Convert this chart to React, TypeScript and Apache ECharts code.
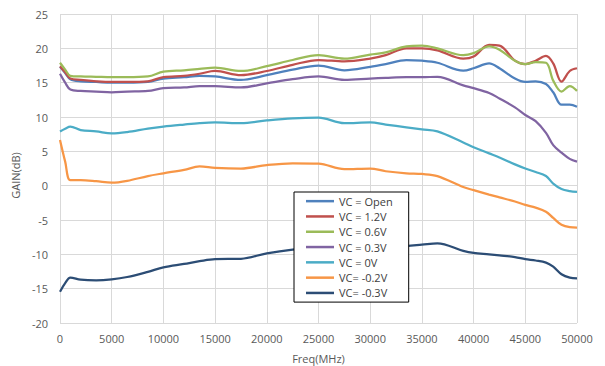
import React, { useEffect, useRef } from "react";
import * as echarts from "echarts";

const freq = [0, 500, 1000, 2000, 3500, 5000, 6500, 8500, 10000, 12000, 13500, 15000, 17500, 20000, 22500, 25000, 27500, 30000, 31500, 33500, 35000, 36500, 39000, 40000, 41500, 42500, 44000, 45000, 46000, 47000, 47700, 48500, 49300, 50000];

const vcOpen = [17.3, 16.4, 15.5, 15.2, 15.1, 15.0, 15.0, 15.1, 15.6, 15.8, 16.0, 15.9, 15.4, 16.1, 16.9, 17.5, 16.8, 17.3, 17.7, 18.3, 18.2, 17.9, 16.75, 17.1, 17.8, 17.1, 15.6, 15.1, 15.2, 14.8, 13.6, 11.8, 11.8, 11.5];
const vc12 = [17.4, 16.5, 15.6, 15.4, 15.2, 15.1, 15.1, 15.2, 15.8, 16.0, 16.3, 16.7, 16.1, 16.7, 17.6, 18.3, 18.1, 18.5, 19.0, 20.0, 20.0, 19.7, 18.5, 18.8, 20.5, 20.4, 18.2, 17.7, 18.2, 18.9, 17.8, 15.15, 16.7, 17.1];
const vc06 = [17.9, 16.9, 16.0, 15.9, 15.85, 15.8, 15.8, 15.9, 16.6, 16.8, 17.0, 17.2, 16.7, 17.4, 18.3, 19.0, 18.5, 19.1, 19.4, 20.3, 20.4, 20.0, 19.0, 19.3, 20.3, 19.8, 18.2, 17.7, 18.0, 17.9, 15.3, 13.7, 14.5, 13.8];
const vc03 = [16.3, 15.0, 14.0, 13.8, 13.7, 13.6, 13.7, 13.8, 14.2, 14.3, 14.5, 14.5, 14.3, 14.9, 15.5, 15.9, 15.4, 15.6, 15.7, 15.8, 15.8, 15.85, 14.6, 14.2, 13.5, 12.7, 11.4, 10.3, 9.4, 7.7, 5.9, 4.8, 3.9, 3.5];
const vc0 = [7.9, 8.3, 8.6, 8.1, 7.9, 7.6, 7.8, 8.3, 8.6, 8.9, 9.1, 9.2, 9.1, 9.5, 9.8, 9.9, 9.1, 9.2, 8.9, 8.5, 8.2, 7.9, 6.3, 5.6, 4.7, 4.1, 3.1, 2.5, 2.0, 1.4, 0.3, -0.5, -0.8, -0.9];
const vcM02 = [6.65, 3.5, 0.8, 0.8, 0.65, 0.43, 0.7, 1.4, 1.8, 2.3, 2.8, 2.6, 2.5, 3.0, 3.25, 3.2, 2.4, 2.5, 2.1, 1.8, 1.7, 1.4, -0.2, -0.65, -1.3, -1.7, -2.3, -2.8, -3.2, -3.8, -4.7, -5.7, -6.05, -6.1];
const vcM03 = [-15.45, -14.2, -13.4, -13.7, -13.8, -13.65, -13.3, -12.55, -11.9, -11.4, -11.0, -10.7, -10.65, -9.85, -9.3, -9.0, -8.9, -8.9, -8.9, -8.8, -8.6, -8.4, -9.5, -9.8, -10.0, -10.15, -10.4, -10.7, -10.9, -11.2, -11.8, -12.9, -13.4, -13.5];

const seriesNames = ["VC = Open", "VC = 1.2V", "VC = 0.6V", "VC = 0.3V", "VC = 0V", "VC= -0.2V", "VC= -0.3V"];
const seriesValues = [vcOpen, vc12, vc06, vc03, vc0, vcM02, vcM03];
const seriesColors = ["#4F81BD", "#C0504D", "#9BBB59", "#8064A2", "#4BACC6", "#F79646", "#2C4D75"];

const FONT = "'Open Sans', 'Liberation Sans', sans-serif";

export default function App() {
  const ref = useRef<HTMLDivElement>(null);
  useEffect(() => {
    if (!ref.current) return;
    const chart = echarts.init(ref.current, undefined, { renderer: "svg" });
    chart.setOption({
      animation: false,
      backgroundColor: "#ffffff",
      textStyle: { fontFamily: FONT },
      grid: { left: 60, right: 28, top: 14, bottom: 43, containLabel: false, outerBoundsMode: "none" },
      legend: {
        orient: "vertical",
        left: 294,
        top: 192,
        data: seriesNames,
        icon: "rect",
        itemWidth: 28,
        itemHeight: 2.5,
        itemGap: 3,
        padding: [3, 16, 3, 12],
        borderColor: "#000000",
        borderWidth: 1,
        borderRadius: 0,
        backgroundColor: "#ffffff",
        textStyle: { fontSize: 11, color: "#404040", fontFamily: FONT, lineHeight: 12.3 },
      },
      xAxis: {
        type: "value",
        min: 0,
        max: 50000,
        interval: 5000,
        name: "Freq(MHz)",
        nameLocation: "middle",
        nameGap: 30,
        nameTextStyle: { fontSize: 11, color: "#595959", fontFamily: FONT },
        axisLine: { show: false },
        axisTick: { show: false },
        axisLabel: { fontSize: 11, color: "#595959", margin: 10, fontFamily: FONT, formatter: (v: number) => String(v) },
        splitLine: { show: true, lineStyle: { color: "#D9D9D9", width: 1 } },
      },
      yAxis: {
        type: "value",
        min: -20,
        max: 25,
        interval: 5,
        name: "GAIN(dB)",
        nameLocation: "middle",
        nameRotate: 90,
        nameGap: 28,
        nameTextStyle: { fontSize: 11, color: "#595959", fontFamily: FONT, padding: [0, 14, 0, 0] },
        axisLine: { show: false },
        axisTick: { show: false },
        axisLabel: { fontSize: 11, color: "#595959", margin: 12, fontFamily: FONT },
        splitLine: { show: true, lineStyle: { color: "#D9D9D9", width: 1 } },
      },
      series: seriesNames.map((name, i) => ({
        name,
        type: "line",
        data: freq.map((f, j) => [f, seriesValues[i][j]]),
        smooth: 0.35,
        symbol: "none",
        showSymbol: false,
        color: seriesColors[i],
        lineStyle: { color: seriesColors[i], width: 2.25 },
      })),
    });
    return () => chart.dispose();
  }, []);
  return (
    <div
      ref={ref}
      style={{ position: "absolute", left: 0, top: 0, width: 605, height: 366 }}
    />
  );
}
